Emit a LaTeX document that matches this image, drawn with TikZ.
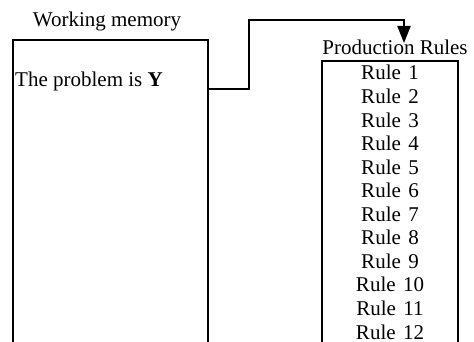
\documentclass[tikz,border=0pt]{standalone}
\usepackage{fontspec}
\setmainfont{Liberation Serif}
\usetikzlibrary{arrows.meta}
\begin{document}
\begin{tikzpicture}[x=1pt,y=-1pt,
  box/.style={line width=2pt},
  lbl/.style={inner sep=0pt,anchor=base,font=\fontsize{21}{24}\selectfont},
  conn/.style={line width=2pt,-{Triangle[length=17pt,width=13pt]}}]
\useasboundingbox (0,0) rectangle (474,342);
% Working memory box
\coordinate (wmbl) at (13,343);
\coordinate (wmtl) at (13,40);
\coordinate (wmtr) at (208,40);
\coordinate (wmbr) at (208,343);
\draw[box] (wmbl) -- (wmtl) -- (wmtr) -- (wmbr);
\node[lbl] (wmtitle) at (107,27) {Working memory};
\node[lbl,anchor=base west] (prob) at (15,87) {The problem is \textbf{Y}};
% Production rules box
\coordinate (prbl) at (322,343);
\coordinate (prtl) at (322,61);
\coordinate (prtr) at (458,61);
\coordinate (prbr) at (458,343);
\draw[box] (prbl) -- (prtl) -- (prtr) -- (prbr);
\node[lbl] (prtitle) at (395,55) {Production Rules};
\foreach \i in {1,...,12}{
  \node[lbl] (r\i) at (390,{80+23.55*(\i-1)}) {Rule\hspace{0.35em}\i};
}
% connector
\coordinate (cs) at (208,89);
\coordinate (ce) at (404,43);
\draw[conn] (cs) -- (249,89) -- (249,20) -| (ce);
\end{tikzpicture}
\end{document}
